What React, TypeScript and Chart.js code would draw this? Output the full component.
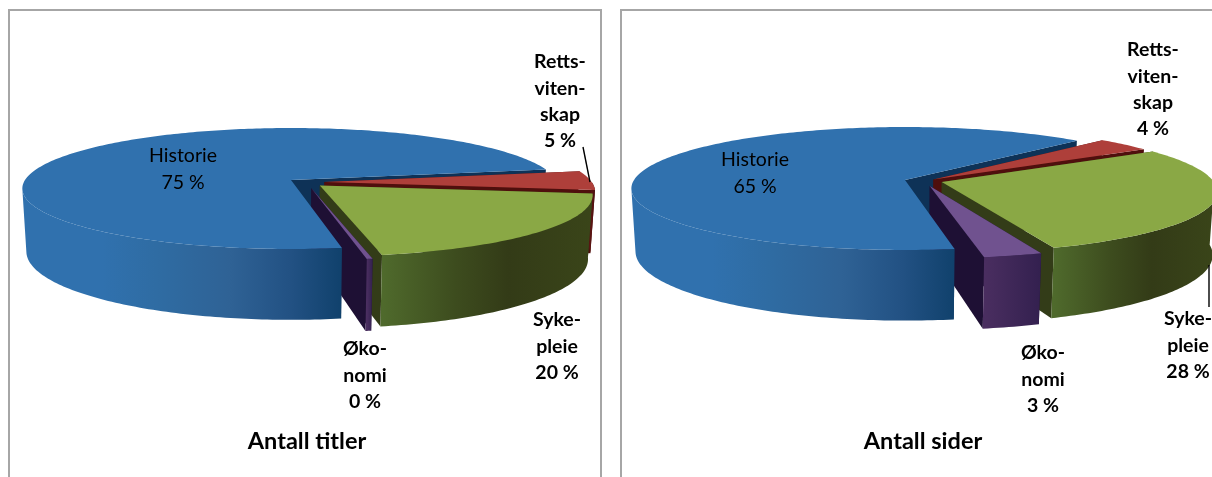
import React, { useEffect, useRef } from "react";
import { Chart, registerables } from "chart.js";

Chart.register(...registerables);

const categories = ["Historie", "Rettsvitenskap", "Sykepleie", "Økonomi"];
const titlesValues = [74.7, 5, 20, 0.3];
const pagesValues = [64.8, 3.7, 28.5, 3];
const labelLines = [["Historie"], ["Retts-", "viten-", "skap"], ["Syke-", "pleie"], ["Øko-", "nomi"]];

const FONT = "Lato, 'Open Sans', sans-serif";
const topColors = ["#3071AE", "#AE3F3A", "#8AA845", "#70528F"];
const cutColors = ["#0E3257", "#4F0F0D", "#333C18", "#1E1034"];
const wallStops: [number, string][][] = [
  [[0, "#3071AE"], [0.25, "#3071AE"], [0.42, "#2F6CA3"], [0.65, "#2F6295"], [0.84, "#225183"], [1, "#10416C"]],
  [[0, "#5A1412"], [1, "#4A100E"]],
  [[0, "#4F6A2C"], [0.35, "#3D4C1E"], [0.6, "#333B17"], [1, "#3A4519"]],
  [[0, "#4A2E60"], [1, "#33204F"]],
];

type Geo = {
  left: number; width: number; cx: number; cy: number; rx: number; ry: number; k: number; depth: number;
  rotation: number; explode: number[][]; labelPos: { x: number; y: number }[]; leader: number[];
};

const TOP = 11;
const TAPER = 0.015;
const geoTitles: Geo = {
  left: 10, width: 594, cx: 291, cy: 180, rx: 266, ry: 59.3, k: 0.1405, depth: 63, rotation: 170.5,
  explode: [[0, 0], [0.125, 0.034], [0.107, 0.09], [0.075, 0.135]],
  labelPos: [{ x: 183, y: 156 }, { x: 560, y: 62 }, { x: 557, y: 320 }, { x: 365, y: 349 }],
  leader: [583, 147, 590, 182],
};
const geoPages: Geo = {
  left: 622, width: 602, cx: 905, cy: 180, rx: 271, ry: 60.3, k: 0.138, depth: 63, rotation: 170.9,
  explode: [[0, 0], [0.105, -0.01], [0.135, 0.033], [0.09, 0.1]],
  labelPos: [{ x: 755, y: 160 }, { x: 1153, y: 50 }, { x: 1188, y: 319 }, { x: 1043, y: 353 }],
  leader: [1209, 265, 1209, 307],
};

function pie3d(geo: Geo) {
  return {
    id: "pie3d",
    beforeDatasetsDraw(chart: any) {
      const ctx: CanvasRenderingContext2D = chart.ctx;
      const meta = chart.getDatasetMeta(0);
      const values: number[] = chart.data.datasets[0].data;
      const total = values.reduce((a, b) => a + b, 0);
      const project = (u: number, v: number, z: number) => {
        const w = 1 - geo.k * v + (TAPER * z) / geo.depth;
        return [geo.cx - geo.left + (geo.rx * u) / w, geo.cy - TOP + (geo.ry * v + z) / w];
      };
      const fillPoly = (pts: number[][], fill: string | CanvasGradient) => {
        ctx.beginPath();
        pts.forEach((p, i) => (i ? ctx.lineTo(p[0], p[1]) : ctx.moveTo(p[0], p[1])));
        ctx.closePath();
        ctx.fillStyle = fill;
        ctx.fill();
      };
      const parts = (el: any, i: number) => {
        const a0: number = el.startAngle;
        const a1: number = el.endAngle;
        const [du, dv] = geo.explode[i];
        const pt = (a: number, z: number) => project(Math.cos(a) + du, Math.sin(a) + dv, z);
        const apex = (z: number) => project(du, dv, z);
        const steps = Math.max(4, Math.ceil(((a1 - a0) * 180) / Math.PI));
        const sample: number[] = [];
        for (let s = 0; s <= steps; s++) sample.push(a0 + ((a1 - a0) * s) / steps);
        const minSin = i === 0 ? geo.k : 0;
        const front = sample.filter((a) => Math.sin(a) >= minSin);
        return {
          cut() {
            fillPoly([apex(0), pt(a0, 0), pt(a0, geo.depth), apex(geo.depth)], cutColors[i]);
            fillPoly([apex(0), pt(a1, 0), pt(a1, geo.depth), apex(geo.depth)], cutColors[i]);
          },
          wall() {
            if (front.length < 2) return;
            const rim = front.map((a) => pt(a, 0));
            const low = front.map((a) => pt(a, geo.depth)).reverse();
            const xs = rim.map((p) => p[0]);
            const g = ctx.createLinearGradient(Math.min(...xs), 0, Math.max(...xs), 0);
            wallStops[i].forEach(([o, c]) => g.addColorStop(o, c));
            fillPoly([...rim, ...low], g);
          },
          top() {
            fillPoly([apex(0), ...sample.map((a) => pt(a, 0))], topColors[i]);
          },
        };
      };
      ctx.save();
      const slices = meta.data.map((el: any, i: number) => parts(el, i));
      slices[0].cut();
      slices.slice(1).forEach((s: any) => {
        s.cut();
        s.wall();
        s.top();
      });
      slices[0].wall();
      slices[0].top();

      ctx.textAlign = "center";
      ctx.textBaseline = "middle";
      ctx.fillStyle = "#000";
      labelLines.forEach((lines, i) => {
        const pos = geo.labelPos[i];
        const pct = Math.round((values[i] / total) * 100) + " %";
        ctx.font = (i === 0 ? "400 " : "700 ") + "19.5px " + FONT;
        [...lines, pct].forEach((t, n) => {
          ctx.fillText(t, pos.x - geo.left, pos.y - TOP + n * 26.3);
        });
      });
      const [x1, y1, x2, y2] = geo.leader;
      ctx.strokeStyle = "#000";
      ctx.lineWidth = 1.4;
      ctx.beginPath();
      ctx.moveTo(x1 - geo.left, y1 - TOP);
      ctx.lineTo(x2 - geo.left, y2 - TOP);
      ctx.stroke();
      ctx.restore();
      return false;
    },
  };
}

function Pie({ geo, values, title }: { geo: Geo; values: number[]; title: string }) {
  const ref = useRef<HTMLCanvasElement>(null);
  useEffect(() => {
    const chart = new Chart(ref.current!, {
      type: "pie",
      data: {
        labels: categories,
        datasets: [{ data: values, backgroundColor: topColors, borderWidth: 0 }],
      },
      options: {
        animation: false,
        responsive: false,
        rotation: geo.rotation,
        plugins: {
          legend: { display: false },
          tooltip: { enabled: false },
          title: {
            display: true,
            text: title,
            position: "bottom",
            color: "#000",
            font: { family: FONT, size: 23.5, weight: "bold" },
            padding: { top: 0, bottom: 21 },
          },
        },
      },
      plugins: [pie3d(geo)],
    } as any);
    return () => chart.destroy();
  }, []);
  return (
    <canvas
      ref={ref}
      width={geo.width}
      height={477 - TOP}
      style={{ position: "absolute", left: geo.left, top: TOP, display: "block" }}
    />
  );
}

const frame = (left: number, width: number): React.CSSProperties => ({
  position: "absolute",
  left,
  top: 9,
  width,
  height: 500,
  border: "2px solid #A6A6A6",
  boxSizing: "border-box",
});

export default function App() {
  return (
    <div style={{ position: "fixed", inset: 0, background: "#fff", overflow: "hidden" }}>
      <div style={frame(8, 594)} />
      <div style={frame(620, 700)} />
      <Pie geo={geoTitles} values={titlesValues} title="Antall titler" />
      <Pie geo={geoPages} values={pagesValues} title="Antall sider" />
    </div>
  );
}
